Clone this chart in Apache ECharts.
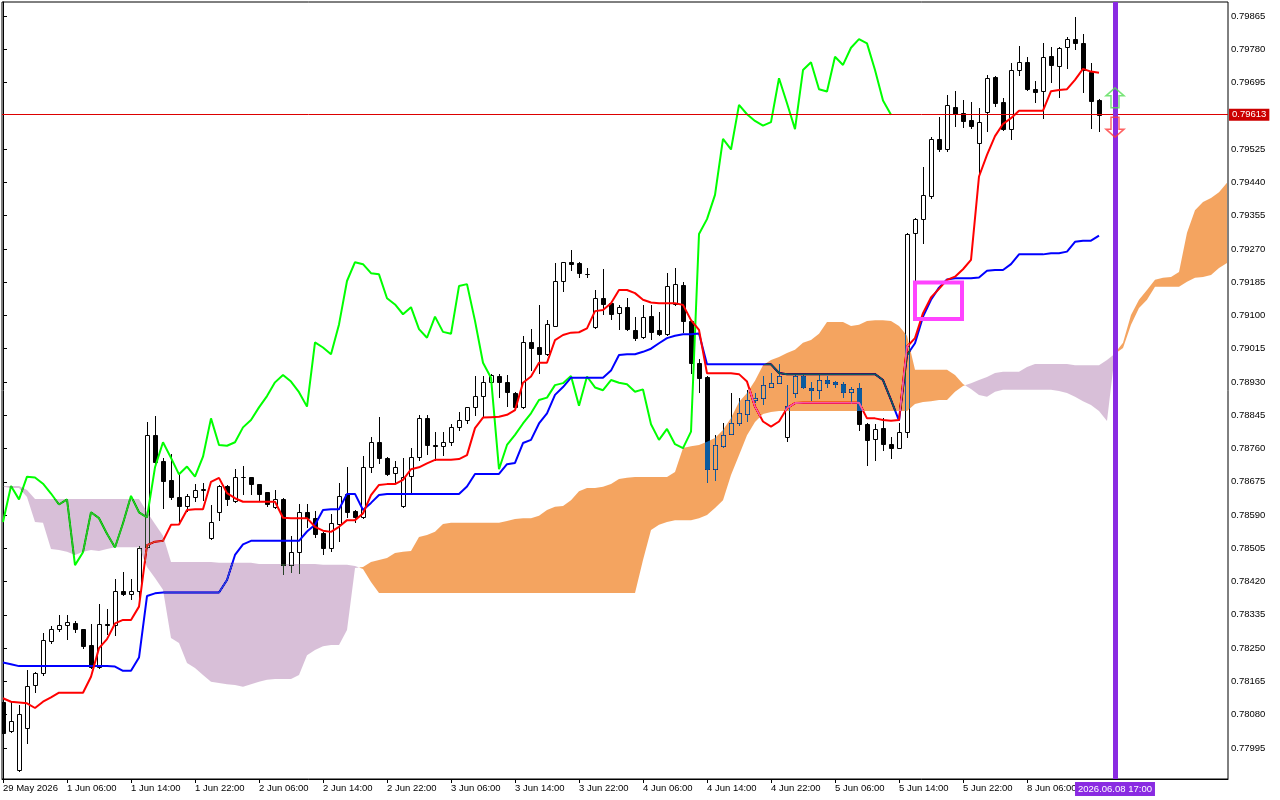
<!DOCTYPE html>
<html>
<head>
<meta charset="utf-8">
<script src="https://cdn.jsdelivr.net/npm/echarts@6/dist/echarts.min.js"></script>
<style>
  html, body { margin: 0; padding: 0; background: #fff; }
  #chart { width: 1280px; height: 800px; }
</style>
</head>
<body>
<div id="chart"></div>
<script>
// H1 bars, 29 May 2026 22:00 .. 8 Jun 2026 15:00
const openP = [0.78113,0.78038,0.77939,0.78046,0.78156,0.78187,0.78269,0.78298,0.78308,0.78314,
0.78298,0.78257,0.78202,0.78311,0.78308,0.78397,0.78387,0.78396,0.78508,0.78795,
0.78728,0.78680,0.78635,0.78614,0.78637,0.78653,0.78531,0.78597,0.78664,0.78626,
0.78687,0.78687,0.78669,0.78648,0.78610,0.78631,0.78462,0.78495,0.78597,0.78583,
0.78545,0.78505,0.78567,0.78643,0.78600,0.78584,0.78712,0.78776,0.78736,0.78697,
0.78614,0.78690,0.78739,0.78837,0.78769,0.78767,0.78776,0.78814,0.78833,0.78865,
0.78894,0.78929,0.78946,0.78931,0.78901,0.78865,0.79031,0.79020,0.79001,0.79074,
0.79188,0.79236,0.79233,0.79206,0.79070,0.79144,0.79131,0.79107,0.79121,0.79063,
0.79044,0.79098,0.79063,0.79052,0.79129,0.79178,0.79086,0.78979,0.78943,0.78707,
0.78766,0.78796,0.78824,0.78847,0.78884,0.78888,0.78918,0.78927,0.78789,0.78901,
0.78944,0.78915,0.78909,0.78935,0.78931,0.78925,0.78905,0.78914,0.78823,0.78784,
0.78812,0.78772,0.78761,0.78803,0.79310,0.79346,0.79406,0.79551,0.79525,0.79633,
0.79618,0.79599,0.79540,0.79619,0.79708,0.79645,0.79576,0.79727,0.79747,0.79679,
0.79674,0.79764,0.79737,0.79787,0.79806,0.79795,0.79723,0.79651];

const closeP = [0.78034,0.78064,0.78082,0.78153,0.78186,0.78271,0.78298,0.78308,0.78316,0.78298,
0.78256,0.78202,0.78311,0.78309,0.78397,0.78387,0.78397,0.78507,0.78795,0.78726,
0.78678,0.78635,0.78614,0.78639,0.78654,0.78657,0.78572,0.78664,0.78630,0.78688,
0.78686,0.78670,0.78645,0.78617,0.78630,0.78462,0.78495,0.78597,0.78582,0.78542,
0.78507,0.78569,0.78639,0.78597,0.78584,0.78712,0.78776,0.78736,0.78694,0.78714,
0.78688,0.78739,0.78837,0.78769,0.78767,0.78776,0.78814,0.78833,0.78865,0.78894,
0.78929,0.78948,0.78931,0.78904,0.78867,0.79031,0.79018,0.79001,0.79077,0.79188,
0.79236,0.79231,0.79208,0.79205,0.79144,0.79128,0.79103,0.79121,0.79065,0.79043,
0.79097,0.79058,0.79053,0.79175,0.79180,0.79086,0.78979,0.78941,0.78707,0.78769,
0.78795,0.78824,0.78850,0.78884,0.78890,0.78922,0.78927,0.78945,0.78869,0.78944,
0.78916,0.78909,0.78935,0.78928,0.78924,0.78905,0.78911,0.78822,0.78782,0.78810,
0.78771,0.78761,0.78803,0.79308,0.79346,0.79408,0.79551,0.79524,0.79638,0.79614,
0.79597,0.79585,0.79594,0.79706,0.79642,0.79576,0.79727,0.79747,0.79678,0.79672,
0.79761,0.79740,0.79784,0.79806,0.79795,0.79727,0.79649,0.79613];

const lowP = [0.78028,0.78036,0.77936,0.78008,0.78138,0.78182,0.78264,0.78294,0.78274,0.78292,
0.78250,0.78200,0.78200,0.78286,0.78284,0.78385,0.78376,0.78378,0.78505,0.78723,
0.78608,0.78630,0.78569,0.78600,0.78627,0.78629,0.78530,0.78577,0.78616,0.78623,
0.78645,0.78645,0.78627,0.78613,0.78608,0.78439,0.78445,0.78441,0.78560,0.78535,
0.78491,0.78499,0.78524,0.78584,0.78571,0.78582,0.78700,0.78723,0.78693,0.78675,
0.78611,0.78646,0.78731,0.78746,0.78731,0.78743,0.78769,0.78807,0.78824,0.78846,
0.78841,0.78918,0.78892,0.78869,0.78863,0.78863,0.78961,0.78954,0.78999,0.79073,
0.79163,0.79216,0.79199,0.79198,0.79069,0.79103,0.79091,0.79066,0.79063,0.79037,
0.79042,0.79039,0.79050,0.79050,0.79127,0.79058,0.78952,0.78905,0.78675,0.78680,
0.78765,0.78796,0.78820,0.78829,0.78880,0.78874,0.78918,0.78927,0.78780,0.78892,
0.78914,0.78884,0.78889,0.78916,0.78918,0.78892,0.78876,0.78807,0.78718,0.78731,
0.78756,0.78735,0.78761,0.78790,0.79190,0.79284,0.79399,0.79521,0.79521,0.79585,
0.79582,0.79578,0.79455,0.79572,0.79636,0.79574,0.79550,0.79714,0.79676,0.79646,
0.79604,0.79697,0.79659,0.79733,0.79781,0.79672,0.79580,0.79572];

const highP = [0.78123,0.78113,0.78105,0.78194,0.78189,0.78288,0.78306,0.78335,0.78335,0.78320,
0.78299,0.78312,0.78363,0.78349,0.78426,0.78444,0.78426,0.78510,0.78827,0.78843,
0.78736,0.78746,0.78695,0.78644,0.78669,0.78671,0.78616,0.78667,0.78667,0.78707,
0.78715,0.78688,0.78670,0.78649,0.78654,0.78634,0.78537,0.78618,0.78618,0.78600,
0.78547,0.78592,0.78671,0.78712,0.78603,0.78742,0.78790,0.78840,0.78738,0.78728,
0.78735,0.78761,0.78846,0.78846,0.78803,0.78803,0.78823,0.78852,0.78866,0.78945,
0.78945,0.78950,0.78950,0.78948,0.78905,0.79047,0.79065,0.79127,0.79088,0.79233,
0.79237,0.79267,0.79236,0.79220,0.79165,0.79218,0.79134,0.79127,0.79144,0.79097,
0.79127,0.79127,0.79110,0.79208,0.79220,0.79186,0.79088,0.78988,0.78945,0.78795,
0.78824,0.78903,0.78888,0.78910,0.78901,0.78944,0.78952,0.78976,0.78922,0.78950,
0.78950,0.78931,0.78948,0.78944,0.78933,0.78931,0.78918,0.78927,0.78825,0.78823,
0.78837,0.78790,0.78824,0.79310,0.79349,0.79480,0.79556,0.79608,0.79663,0.79674,
0.79650,0.79646,0.79629,0.79714,0.79712,0.79655,0.79744,0.79789,0.79761,0.79699,
0.79797,0.79787,0.79787,0.79811,0.79863,0.79818,0.79744,0.79653];

// Ichimoku lines
const tenkan = [0.78122,0.78113,0.78111,0.78109,0.78097,0.78113,0.78124,0.78136,0.78136,0.78136,
0.78136,0.78177,0.78250,0.78273,0.78313,0.78322,0.78322,0.78356,0.78513,0.78522,
0.78524,0.78565,0.78566,0.78603,0.78605,0.78605,0.78675,0.78685,0.78646,0.78633,
0.78624,0.78624,0.78624,0.78624,0.78624,0.78583,0.78582,0.78582,0.78582,0.78560,
0.78550,0.78547,0.78560,0.78577,0.78577,0.78594,0.78641,0.78667,0.78669,0.78669,
0.78680,0.78707,0.78712,0.78722,0.78731,0.78731,0.78731,0.78733,0.78743,0.78812,
0.78839,0.78840,0.78841,0.78846,0.78858,0.78928,0.78944,0.78979,0.78979,0.79037,
0.79050,0.79056,0.79057,0.79067,0.79111,0.79114,0.79131,0.79165,0.79165,0.79157,
0.79140,0.79133,0.79131,0.79131,0.79131,0.79127,0.79088,0.79063,0.78952,0.78952,
0.78952,0.78952,0.78950,0.78931,0.78867,0.78829,0.78816,0.78829,0.78863,0.78876,
0.78877,0.78877,0.78877,0.78877,0.78877,0.78877,0.78877,0.78877,0.78837,0.78837,
0.78833,0.78831,0.78833,0.79020,0.79042,0.79106,0.79146,0.79168,0.79191,0.79199,
0.79218,0.79242,0.79455,0.79510,0.79558,0.79589,0.79604,0.79623,0.79623,0.79623,
0.79623,0.79673,0.79676,0.79678,0.79702,0.79730,0.79723,0.79720];

const kijun = [0.78213,0.78209,0.78204,0.78204,0.78204,0.78204,0.78204,0.78204,0.78204,0.78204,
0.78204,0.78204,0.78204,0.78204,0.78203,0.78192,0.78192,0.78226,0.78383,0.78390,
0.78392,0.78392,0.78392,0.78392,0.78392,0.78392,0.78392,0.78392,0.78424,0.78488,
0.78515,0.78524,0.78524,0.78524,0.78524,0.78524,0.78524,0.78524,0.78548,0.78565,
0.78603,0.78605,0.78605,0.78644,0.78644,0.78603,0.78621,0.78641,0.78644,0.78644,
0.78644,0.78644,0.78644,0.78644,0.78644,0.78644,0.78644,0.78644,0.78663,0.78695,
0.78695,0.78695,0.78695,0.78720,0.78723,0.78774,0.78782,0.78824,0.78850,0.78897,
0.78917,0.78941,0.78941,0.78941,0.78941,0.78941,0.78959,0.78999,0.79001,0.79001,
0.79007,0.79015,0.79029,0.79042,0.79048,0.79052,0.79052,0.79054,0.78975,0.78975,
0.78975,0.78975,0.78975,0.78975,0.78975,0.78975,0.78975,0.78953,0.78950,0.78950,
0.78950,0.78950,0.78950,0.78950,0.78950,0.78950,0.78950,0.78950,0.78950,0.78950,
0.78935,0.78884,0.78831,0.78999,0.79029,0.79097,0.79140,0.79171,0.79192,0.79195,
0.79195,0.79195,0.79197,0.79214,0.79216,0.79216,0.79231,0.79256,0.79256,0.79256,
0.79256,0.79259,0.79259,0.79263,0.79288,0.79291,0.79291,0.79304];

// Senkou spans, already displaced 26 bars ahead (bars 0..153)
const spanA = [0.78662,0.78659,0.78659,0.78636,0.78572,0.78570,0.78503,0.78501,0.78496,0.78488,
0.78496,0.78501,0.78498,0.78503,0.78508,0.78508,0.78508,0.78508,0.78457,0.78429,
0.78399,0.78276,0.78263,0.78212,0.78199,0.78181,0.78164,0.78161,0.78158,0.78156,
0.78151,0.78158,0.78164,0.78169,0.78171,0.78171,0.78171,0.78181,0.78232,0.78245,
0.78255,0.78258,0.78258,0.78296,0.78455,0.78457,0.78470,0.78475,0.78480,0.78493,
0.78496,0.78498,0.78534,0.78539,0.78547,0.78567,0.78570,0.78570,0.78570,0.78570,
0.78570,0.78570,0.78570,0.78575,0.78580,0.78582,0.78582,0.78588,0.78603,0.78611,
0.78613,0.78628,0.78651,0.78659,0.78659,0.78662,0.78669,0.78682,0.78685,0.78687,
0.78687,0.78687,0.78687,0.78687,0.78700,0.78761,0.78766,0.78769,0.78777,0.78787,
0.78807,0.78838,0.78879,0.78902,0.78933,0.78973,0.78986,0.78994,0.79004,0.79012,
0.79030,0.79037,0.79053,0.79083,0.79083,0.79083,0.79073,0.79076,0.79086,0.79088,
0.79088,0.79086,0.79073,0.79048,0.78961,0.78961,0.78961,0.78961,0.78961,0.78948,
0.78925,0.78912,0.78897,0.78892,0.78905,0.78910,0.78910,0.78910,0.78910,0.78910,
0.78910,0.78910,0.78907,0.78902,0.78892,0.78881,0.78871,0.78856,0.78830,0.79004,
0.79030,0.79101,0.79140,0.79165,0.79191,0.79196,0.79198,0.79211,0.79311,0.79369,
0.79390,0.79400,0.79415,0.79439];

const spanB = [0.78664,0.78664,0.78664,0.78654,0.78631,0.78631,0.78631,0.78631,0.78631,0.78631,
0.78631,0.78631,0.78631,0.78631,0.78631,0.78631,0.78631,0.78631,0.78598,0.78567,
0.78537,0.78470,0.78470,0.78470,0.78470,0.78470,0.78470,0.78468,0.78468,0.78468,
0.78468,0.78468,0.78465,0.78465,0.78465,0.78465,0.78465,0.78465,0.78465,0.78465,
0.78463,0.78463,0.78463,0.78463,0.78460,0.78452,0.78419,0.78391,0.78391,0.78391,
0.78391,0.78391,0.78391,0.78391,0.78391,0.78391,0.78391,0.78391,0.78391,0.78391,
0.78391,0.78391,0.78391,0.78391,0.78391,0.78391,0.78391,0.78391,0.78391,0.78391,
0.78391,0.78391,0.78391,0.78391,0.78391,0.78391,0.78391,0.78391,0.78391,0.78391,
0.78475,0.78552,0.78565,0.78572,0.78577,0.78577,0.78577,0.78582,0.78590,0.78608,
0.78628,0.78692,0.78743,0.78794,0.78828,0.78848,0.78853,0.78856,0.78856,0.78856,
0.78856,0.78856,0.78856,0.78856,0.78856,0.78856,0.78856,0.78856,0.78856,0.78856,
0.78856,0.78856,0.78856,0.78856,0.78874,0.78879,0.78881,0.78884,0.78884,0.78905,
0.78920,0.78927,0.78935,0.78943,0.78953,0.78956,0.78956,0.78956,0.78968,0.78976,
0.78976,0.78976,0.78976,0.78976,0.78973,0.78973,0.78973,0.78973,0.78986,0.79002,
0.79017,0.79076,0.79119,0.79140,0.79173,0.79173,0.79173,0.79173,0.79186,0.79196,
0.79198,0.79203,0.79221,0.79234];

const chikouShift = 26;

const xMin = -0.125, xMax = 153.125;
const yMin = 0.779156, yMax = 0.799008;

const xTickIdx = [0, 8, 16, 24, 32, 40, 48, 56, 64, 72, 80, 88, 96, 104, 112, 120, 128];
const xTickText = ['29 May 2026', '1 Jun 06:00', '1 Jun 14:00', '1 Jun 22:00', '2 Jun 06:00',
  '2 Jun 14:00', '2 Jun 22:00', '3 Jun 06:00', '3 Jun 14:00', '3 Jun 22:00', '4 Jun 06:00',
  '4 Jun 14:00', '4 Jun 22:00', '5 Jun 06:00', '5 Jun 14:00', '5 Jun 22:00', '8 Jun 06:00'];

const yTicks = [0.79865, 0.79780, 0.79695, 0.79525, 0.79440, 0.79355, 0.79270, 0.79185,
  0.79100, 0.79015, 0.78930, 0.78845, 0.78760, 0.78675, 0.78590, 0.78505, 0.78420,
  0.78335, 0.78250, 0.78165, 0.78080, 0.77995];

const lastPrice = 0.79613;
const vlineBar = 139;
const vlineText = '2026.06.08 17:00';
const arrowUp = [139, 0.79656];
const arrowDown = [139, 0.79581];
const boxCorners = [[114, 0.79184], [119.875, 0.79091]];

const FONT = 'Liberation Sans';
const FONT_SIZE = 9.5;

const candleData = openP.map((o, i) => [i, o, closeP[i], lowP[i], highP[i]]);
const toXY = arr => arr.map((v, i) => [i, v]);
const chikou = [];
for (let i = 0; i + chikouShift < closeP.length; i++) chikou.push([i, closeP[i + chikouShift]]);

function renderCandle(params, api) {
  const i = api.value(0);
  const o = api.value(1), c = api.value(2), l = api.value(3), h = api.value(4);
  const pO = api.coord([i, o]), pC = api.coord([i, c]);
  const pL = api.coord([i, l]), pH = api.coord([i, h]);
  const x = Math.round(pO[0]);
  const top = Math.round(Math.min(pO[1], pC[1]));
  const bot = Math.round(Math.max(pO[1], pC[1]));
  return {
    type: 'group',
    children: [
      { type: 'line', shape: { x1: x + 0.5, y1: Math.round(pH[1]), x2: x + 0.5, y2: Math.round(pL[1]) + 1 },
        style: { stroke: '#000', lineWidth: 1 } },
      { type: 'rect', shape: { x: x - 1.5, y: top + 0.5, width: 4, height: Math.max(bot - top, 0) },
        style: { fill: c >= o ? '#fff' : '#000', stroke: '#000', lineWidth: 1 } }
    ]
  };
}

// cloud is painted with 'difference' so that whatever lies under it gets the MT5 look
const BULL = '#0b5b9f';   // white -> sandy brown
const BEAR = '#274027';   // white -> thistle

function renderCloud(params, api) {
  if (params.dataIndex !== 0) return null;
  const children = [];
  let upper = [], lower = [], sign = null;
  const flush = () => {
    if (upper.length > 1) {
      children.push({
        type: 'polygon',
        shape: { points: upper.concat(lower.slice().reverse()) },
        style: { fill: sign > 0 ? BULL : BEAR }
      });
    }
  };
  for (let i = 0; i < spanA.length; i++) {
    const d = spanA[i] - spanB[i];
    const s = d > 0 ? 1 : (d < 0 ? -1 : (sign || 1));
    if (sign !== null && s !== sign) {
      const d0 = spanA[i - 1] - spanB[i - 1];
      const t = d0 / (d0 - d);
      const pc = api.coord([i - 1 + t, spanA[i - 1] + (spanA[i] - spanA[i - 1]) * t]);
      upper.push(pc); lower.push(pc);
      flush();
      upper = [pc]; lower = [pc];
    }
    sign = s;
    upper.push(api.coord([i, spanA[i]]));
    lower.push(api.coord([i, spanB[i]]));
  }
  flush();
  return { type: 'group', children };
}

const chart = echarts.init(document.getElementById('chart'), null, { renderer: 'canvas' });

chart.setOption({
  backgroundColor: '#ffffff',
  animation: false,
  grid: { left: 2, right: 52, top: 2, bottom: 21, show: true, borderColor: '#000', borderWidth: 1, backgroundColor: 'transparent' },
  xAxis: {
    type: 'value', min: xMin, max: xMax,
    splitLine: { show: false },
    axisLine: { show: true, lineStyle: { color: '#000' } },
    axisTick: { show: true, customValues: xTickIdx, length: 4, lineStyle: { color: '#000' } },
    axisLabel: {
      customValues: xTickIdx, align: 'left', margin: 4, color: '#000',
      fontFamily: FONT, fontSize: FONT_SIZE,
      formatter: v => xTickText[xTickIdx.indexOf(v)] || ''
    }
  },
  yAxis: {
    type: 'value', position: 'right', min: yMin, max: yMax, scale: true,
    splitLine: { show: false },
    axisLine: { show: true, lineStyle: { color: '#000' } },
    axisTick: { show: true, customValues: yTicks, length: 4, lineStyle: { color: '#000' } },
    axisLabel: {
      customValues: yTicks, margin: 3, color: '#000',
      fontFamily: FONT, fontSize: FONT_SIZE,
      formatter: v => Number(v).toFixed(5)
    }
  },
  series: [
    {
      type: 'custom', name: 'candles', z: 2, clip: true,
      renderItem: renderCandle,
      encode: { x: 0, y: [1, 2, 3, 4] },
      data: candleData
    },
    {
      type: 'line', name: 'Chikou', z: 3, data: chikou, symbol: 'none',
      lineStyle: { color: '#00ff00', width: 2 }
    },
    {
      type: 'line', name: 'Kijun', z: 3, data: toXY(kijun), symbol: 'none',
      lineStyle: { color: '#0000ff', width: 2 }
    },
    {
      type: 'line', name: 'Tenkan', z: 3, data: toXY(tenkan), symbol: 'none',
      lineStyle: { color: '#ff0000', width: 2 }
    },
    {
      type: 'custom', name: 'cloud', z: 4, clip: true, blendMode: 'difference',
      renderItem: renderCloud,
      encode: { x: 0, y: [1, 2] },
      data: spanA.map((a, i) => [i, a, spanB[i]])
    },
    {
      type: 'line', name: 'overlay', z: 6, clip: false,
      data: [[vlineBar, lastPrice]], symbol: 'none', showSymbol: false,
      lineStyle: { width: 0 },
      markLine: {
        silent: true, symbol: 'none', z: 6, animation: false,
        data: [
          [
            {
              coord: [xMin, lastPrice],
              lineStyle: { color: '#dd0000', width: 1, type: 'solid' },
              label: {
                show: true, position: 'end', distance: 1, formatter: lastPrice.toFixed(5),
                color: '#fff', backgroundColor: '#cc0000', padding: [1, 3, 1, 3],
                fontFamily: FONT, fontSize: FONT_SIZE
              }
            },
            { coord: [xMax, lastPrice] }
          ],
          {
            xAxis: vlineBar,
            lineStyle: { color: '#8a2be2', width: 5, type: 'solid' },
            label: {
              show: true, position: 'start', distance: 3, formatter: vlineText,
              color: '#fff', backgroundColor: '#8a2be2', padding: [2, 3, 2, 3],
              fontFamily: FONT, fontSize: FONT_SIZE
            }
          }
        ]
      },
      markArea: {
        silent: true, z: 6,
        itemStyle: { color: 'rgba(0,0,0,0)', borderColor: '#ff44ff', borderWidth: 4 },
        data: [[{ coord: boxCorners[0] }, { coord: boxCorners[1] }]]
      }
    },
    {
      type: 'scatter', name: 'up', z: 7, silent: true,
      data: [arrowUp],
      symbol: 'path://M9,0 L18,8 L13,8 L13,20 L5,20 L5,8 L0,8 Z',
      symbolSize: [18, 20],
      itemStyle: { color: 'rgba(0,0,0,0)', borderColor: '#55dd55', borderWidth: 1.5 }
    },
    {
      type: 'scatter', name: 'down', z: 7, silent: true,
      data: [arrowDown],
      symbol: 'path://M5,0 L13,0 L13,12 L18,12 L9,20 L0,12 L5,12 Z',
      symbolSize: [18, 20],
      itemStyle: { color: 'rgba(0,0,0,0)', borderColor: '#ff3b3b', borderWidth: 1.5 }
    }
  ]
});
</script>
</body>
</html>
